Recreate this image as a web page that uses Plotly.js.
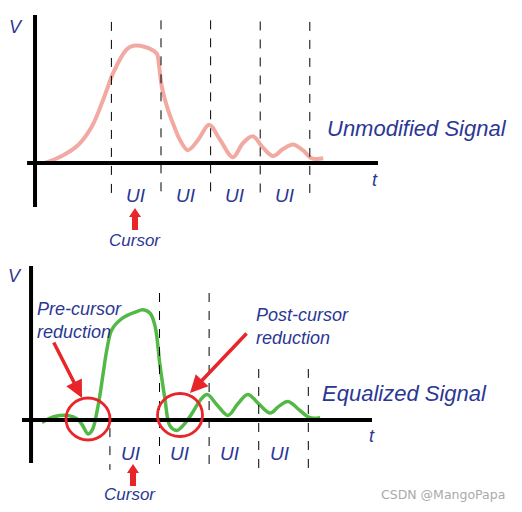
<!DOCTYPE html>
<html>
<head>
<meta charset="utf-8">
<script src="https://cdn.plot.ly/plotly-3.0.1.min.js"></script>
<style>html,body{margin:0;padding:0;background:#fff;}#chart{width:522px;height:512px;}</style>
</head>
<body>
<div id="chart"></div>
<script>
// ---- data (time in UI units, amplitude in normalised volts) ----
const tUnmod = [0.16,0.50,0.83,1.10,1.33,1.55,1.81,1.94,2.18,2.34,2.42,2.46,2.52,2.64,2.78,2.88,3.04,3.25,3.47,3.69,3.95,4.15,4.35,4.56,4.76,4.96,5.16,5.36,5.54,5.77];
const vUnmod = [0.00,0.06,0.155,0.31,0.54,0.79,0.98,1.01,1.00,0.97,0.94,0.84,0.65,0.46,0.30,0.20,0.11,0.20,0.33,0.20,0.05,0.17,0.23,0.13,0.06,0.12,0.16,0.11,0.04,0.04];
const tEq = [0.13,0.39,0.64,0.84,0.94,1.06,1.14,1.26,1.36,1.44,1.54,1.76,2.01,2.17,2.31,2.41,2.51,2.61,2.71,2.85,2.99,3.16,3.32,3.46,3.66,3.88,4.08,4.28,4.50,4.73,4.91,5.09,5.31,5.53,5.74];
const vEq = [-0.02,0.03,0.04,0.01,-0.04,-0.12,-0.09,0.12,0.39,0.61,0.78,0.88,0.93,0.95,0.92,0.81,0.47,0.18,-0.05,-0.09,-0.04,0.06,0.17,0.22,0.13,0.04,0.14,0.22,0.14,0.06,0.12,0.16,0.09,0.02,0.02];
const uiBoundaries = [1.5,2.5,3.5,4.5,5.5];
const uiCenters = [2,3,4,5];
const uiLabel = "UI";
const cursorT = 2;
const topTitle = "Unmodified Signal";
const bottomTitle = "Equalized Signal";
const preLabel = "Pre-cursor<br>reduction";
const postLabel = "Post-cursor<br>reduction";
const cursorLabel = "Cursor";
const watermark = "CSDN @MangoPapa";

const W = 522, H = 512;
const BLUE = "#2b3794", RED = "#e8262a", PINK = "#f2a9a2", GREEN = "#52b946";
const FONT = "Liberation Sans, Arial, sans-serif";
const PX = x => x / W, PY = y => 1 - y / H;

const traces = [
  {x: tUnmod, y: vUnmod, xaxis: "x", yaxis: "y", mode: "lines",
   line: {color: PINK, width: 4, shape: "spline", smoothing: 1}, hoverinfo: "skip"},
  {x: tEq, y: vEq, xaxis: "x2", yaxis: "y2", mode: "lines",
   line: {color: GREEN, width: 3.5, shape: "spline", smoothing: 1}, hoverinfo: "skip"}
];

const shapes = [];
// axis lines
shapes.push({type: "line", xref: "x", yref: "y", x0: -0.04, x1: -0.04, y0: 1.276, y1: -0.379, line: {color: "#000", width: 4}});
shapes.push({type: "line", xref: "x", yref: "y", x0: -0.2, x1: 6.875, y0: 0, y1: 0, line: {color: "#000", width: 4}});
shapes.push({type: "line", xref: "x2", yref: "y2", x0: -0.09, x1: -0.09, y0: 1.328, y1: -0.371, line: {color: "#000", width: 4}});
shapes.push({type: "line", xref: "x2", yref: "y2", x0: -0.272, x1: 6.784, y0: 0, y1: 0, line: {color: "#000", width: 4}});
// UI boundary dashed lines
const dashTopTop = [1.216, 1.23, 1.23, 1.22, 1.216];
const dashTopEq = [-0.07, 1.095, 1.095, 0.44, 0.44];
uiBoundaries.forEach((b, i) => {
  shapes.push({type: "line", xref: "x", yref: "y", x0: b, x1: b, y0: dashTopTop[i], y1: -0.29, line: {color: "#000", width: 1, dash: "dash"}});
  shapes.push({type: "line", xref: "x2", yref: "y2", x0: b, x1: b, y0: dashTopEq[i], y1: -0.43, line: {color: "#000", width: 1, dash: "dash"}});
});
// red circles
function circ(cx, cy, rx, ry) {
  return {type: "circle", xref: "paper", yref: "paper", x0: PX(cx - rx), x1: PX(cx + rx), y0: PY(cy + ry), y1: PY(cy - ry), line: {color: RED, width: 2.8}};
}
shapes.push(circ(88, 419, 22, 21));
shapes.push(circ(180, 415, 22.5, 21.5));
// fat cursor arrows
function fatArrow(cx, tip, bottom) {
  const pts = [[cx, tip], [cx + 6, tip + 9], [cx + 3, tip + 9], [cx + 3, bottom], [cx - 3, bottom], [cx - 3, tip + 9], [cx - 6, tip + 9]];
  const d = "M " + pts.map(p => PX(p[0]) + "," + PY(p[1])).join(" L ") + " Z";
  return {type: "path", xref: "paper", yref: "paper", path: d, fillcolor: RED, line: {color: RED, width: 0}};
}
shapes.push(fatArrow(135, 208, 230));
shapes.push(fatArrow(133, 464, 486));

const annotations = [];
function txt(x, y, text, size, opts) {
  annotations.push(Object.assign({xref: "paper", yref: "paper", x: PX(x), y: PY(y), text: text, showarrow: false,
    font: {family: FONT, size: size, color: BLUE}, xanchor: "center", yanchor: "middle"}, opts || {}));
}
// UI labels
uiCenters.forEach(c => {
  annotations.push({xref: "x", yref: "paper", x: c, y: PY(195), text: "<i>" + uiLabel + "</i>", showarrow: false,
    font: {family: FONT, size: 19, color: BLUE}, xanchor: "center", yanchor: "middle"});
  annotations.push({xref: "x2", yref: "paper", x: c - 0.08, y: PY(453), text: "<i>" + uiLabel + "</i>", showarrow: false,
    font: {family: FONT, size: 19, color: BLUE}, xanchor: "center", yanchor: "middle"});
});
txt(16, 27, "<i>V</i>", 18);
txt(15, 276, "<i>V</i>", 18);
txt(375, 180, "<i>t</i>", 18);
txt(372, 436, "<i>t</i>", 18);
txt(135, 240, "<i>" + cursorLabel + "</i>", 17);
txt(130, 494, "<i>" + cursorLabel + "</i>", 17);
txt(325, 128, "<i>" + topTitle + "</i>", 22, {xanchor: "left"});
txt(320, 393, "<i>" + bottomTitle + "</i>", 22, {xanchor: "left"});
txt(35, 320, "<i>" + preLabel + "</i>", 18, {xanchor: "left", align: "left"});
txt(254, 326, "<i>" + postLabel + "</i>", 18, {xanchor: "left", align: "left"});
annotations.push({xref: "paper", yref: "paper", x: PX(507), y: PY(494), text: watermark, showarrow: false,
  font: {family: "DejaVu Sans, sans-serif", size: 12.5, color: "#aaaaaa"}, xanchor: "right", yanchor: "middle"});
// red pointer arrows
annotations.push({xref: "paper", yref: "paper", x: PX(82), y: PY(398), ax: -29, ay: -57, text: "", showarrow: true,
  arrowhead: 2, arrowsize: 1, arrowwidth: 3.5, arrowcolor: RED});
annotations.push({xref: "paper", yref: "paper", x: PX(190), y: PY(393), ax: 58, ay: -61, text: "", showarrow: true,
  arrowhead: 2, arrowsize: 1, arrowwidth: 3.5, arrowcolor: RED});

const layout = {
  width: W, height: H,
  margin: {l: 0, r: 0, t: 0, b: 0},
  paper_bgcolor: "#fff", plot_bgcolor: "rgba(0,0,0,0)",
  showlegend: false,
  xaxis: {domain: [0, 1], range: [-0.746, 9.778], visible: false, anchor: "y", fixedrange: true},
  yaxis: {domain: [0.5, 1], range: [-0.802, 1.405], visible: false, anchor: "x", fixedrange: true},
  xaxis2: {domain: [0, 1], range: [-0.716, 9.808], visible: false, anchor: "y2", fixedrange: true},
  yaxis2: {domain: [0, 0.5], range: [-0.793, 1.414], visible: false, anchor: "x2", fixedrange: true},
  shapes: shapes,
  annotations: annotations
};
Plotly.newPlot("chart", traces, layout, {staticPlot: true, displayModeBar: false});
</script>
</body>
</html>
